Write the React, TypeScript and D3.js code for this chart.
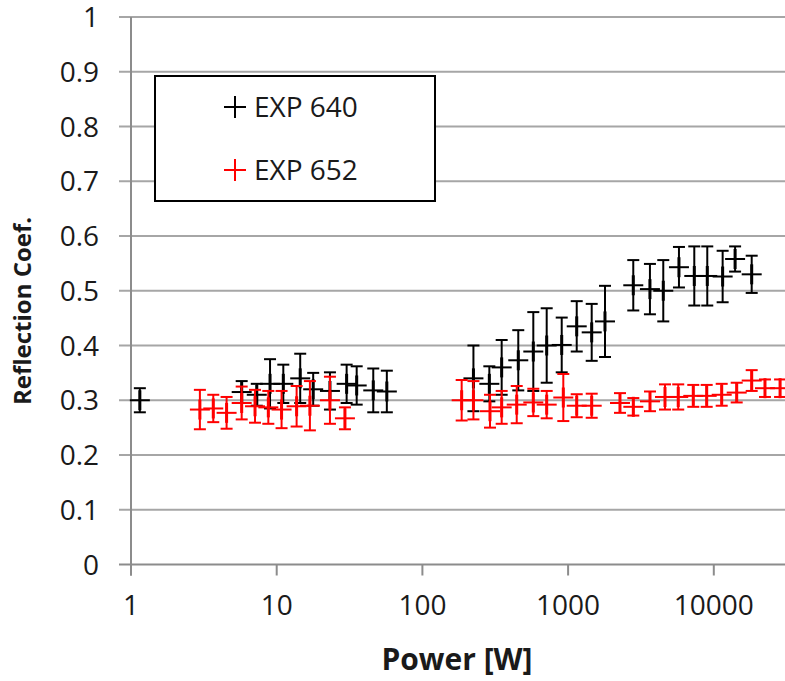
import React from "react";
import * as d3 from "d3";

const yTicks = [0, 0.1, 0.2, 0.3, 0.4, 0.5, 0.6, 0.7, 0.8, 0.9, 1];
const yTickLabels = ["0", "0.1", "0.2", "0.3", "0.4", "0.5", "0.6", "0.7", "0.8", "0.9", "1"];
const xTicks = [1, 10, 100, 1000, 10000];
const xTickLabels = ["1", "10", "100", "1000", "10000"];

const seriesNames = ["EXP 640", "EXP 652"];

const exp640Power = [1.15, 5.75, 7.3, 9.0, 11.1, 14.5, 17.8, 23.2, 30.2, 35.4, 46, 57,
  224, 288, 350, 455, 577, 713, 904, 1146, 1452, 1791, 2801, 3645, 4500, 5766, 7346, 9020, 11500, 14000, 18200];
const exp640Refl = [0.30, 0.315, 0.31, 0.33, 0.33, 0.34, 0.32, 0.317, 0.33, 0.327, 0.318, 0.316,
  0.34, 0.33, 0.36, 0.373, 0.389, 0.40, 0.401, 0.435, 0.424, 0.444, 0.51, 0.503, 0.50, 0.543, 0.527, 0.527, 0.526, 0.558, 0.53];
const exp640Err = [0.022, 0.02, 0.02, 0.045, 0.035, 0.045, 0.03, 0.034, 0.035, 0.035, 0.04, 0.038,
  0.06, 0.032, 0.05, 0.055, 0.072, 0.068, 0.05, 0.046, 0.052, 0.065, 0.046, 0.046, 0.056, 0.037, 0.054, 0.054, 0.047, 0.023, 0.034];

const exp652Power = [2.97, 3.67, 4.53, 5.75, 7.1, 8.76, 10.8, 13.7, 16.9, 23.2, 29.4,
  186, 224, 291, 350, 444, 577, 713, 927, 1146, 1452, 2270, 2803, 3648, 4624, 5700, 7230, 8937, 11330, 14360, 18200, 22450, 28500];
const exp652Refl = [0.283, 0.285, 0.277, 0.295, 0.289, 0.287, 0.283, 0.289, 0.29, 0.30, 0.267,
  0.30, 0.30, 0.28, 0.287, 0.292, 0.296, 0.292, 0.305, 0.29, 0.29, 0.295, 0.288, 0.298, 0.306, 0.306, 0.308, 0.308, 0.31, 0.314, 0.336, 0.322, 0.322];
const exp652Err = [0.036, 0.025, 0.029, 0.03, 0.03, 0.03, 0.034, 0.037, 0.045, 0.043, 0.02,
  0.037, 0.035, 0.03, 0.03, 0.034, 0.025, 0.025, 0.043, 0.021, 0.022, 0.018, 0.016, 0.018, 0.023, 0.023, 0.02, 0.02, 0.02, 0.018, 0.019, 0.016, 0.016];

const W = 785;
const H = 681;
const FONT = "'Open Sans', 'Noto Sans', sans-serif";

export default function App() {
  const left = 131;
  const decade = 145.7;
  const x = d3.scaleLog().domain([1, 100000]).range([left, left + 5 * decade]);
  const y = d3.scaleLinear().domain([0, 1]).range([564.5, 17]);
  const plotRight = W + 10;

  const series = [
    { name: seriesNames[0], color: "#000000", P: exp640Power, R: exp640Refl, E: exp640Err },
    { name: seriesNames[1], color: "#ff0000", P: exp652Power, R: exp652Refl, E: exp652Err },
  ];

  const cap = 6;
  const arm = 10;

  return (
    <svg
      width={W}
      height={H}
      style={{ position: "absolute", left: 0, top: 0, display: "block", background: "#fff" }}
    >
      <rect x={0} y={0} width={W} height={H} fill="#fff" />
      {/* gridlines */}
      {yTicks.map((t, i) =>
        t === 0 ? null : (
          <line key={"g" + i} x1={left - 12} x2={plotRight} y1={y(t)} y2={y(t)} stroke="#a6a6a6" strokeWidth={2} />
        )
      )}
      {/* axes */}
      <line x1={left} x2={left} y1={y(1)} y2={y(0) + 11} stroke="#8c8c8c" strokeWidth={2} />
      <line x1={left - 12} x2={plotRight} y1={y(0)} y2={y(0)} stroke="#8c8c8c" strokeWidth={2} />
      {xTicks.map((t, i) => (
        <line key={"xt" + i} x1={x(t)} x2={x(t)} y1={y(0)} y2={y(0) + 11} stroke="#8c8c8c" strokeWidth={2} />
      ))}
      {/* tick labels */}
      {yTicks.map((t, i) => (
        <text key={"yl" + i} x={99} y={y(t) + 10} textAnchor="end" fontFamily={FONT} fontSize={28} fill="#1a1a1a">
          {yTickLabels[i]}
        </text>
      ))}
      {xTicks.map((t, i) => (
        <text key={"xl" + i} x={x(t)} y={615} textAnchor="middle" fontFamily={FONT} fontSize={28} fill="#1a1a1a">
          {xTickLabels[i]}
        </text>
      ))}
      {/* axis titles */}
      <text x={457} y={670} textAnchor="middle" fontFamily={FONT} fontWeight="bold" fontSize={30} fill="#1a1a1a">
        Power [W]
      </text>
      <text
        transform={`translate(31, 311) rotate(-90)`}
        textAnchor="middle"
        fontFamily={FONT}
        fontWeight="bold"
        fontSize={24}
        fill="#1a1a1a"
      >
        Reflection Coef.
      </text>
      {/* data */}
      {series.map((s, si) => (
        <g key={"s" + si} stroke={s.color} fill="none">
          {s.P.map((p, i) => {
            const cx = x(p);
            const cy = y(s.R[i]);
            const yt = y(s.R[i] + s.E[i]);
            const yb = y(s.R[i] - s.E[i]);
            return (
              <g key={i}>
                <line x1={cx} x2={cx} y1={yt} y2={yb} strokeWidth={2} />
                <line x1={cx - cap} x2={cx + cap} y1={yt} y2={yt} strokeWidth={2} />
                <line x1={cx - cap} x2={cx + cap} y1={yb} y2={yb} strokeWidth={2} />
                <line x1={cx - arm} x2={cx + arm} y1={cy} y2={cy} strokeWidth={2} />
                <line x1={cx} x2={cx} y1={cy - arm} y2={cy + arm} strokeWidth={3} />
              </g>
            );
          })}
        </g>
      ))}
      {/* legend */}
      <rect x={155} y={76} width={280} height={125} fill="#fff" stroke="#000" strokeWidth={2} />
      {series.map((s, i) => {
        const ly = 107 + i * 63;
        return (
          <g key={"lg" + i}>
            <line x1={224} x2={246} y1={ly} y2={ly} stroke={s.color} strokeWidth={2} />
            <line x1={235} x2={235} y1={ly - 11} y2={ly + 11} stroke={s.color} strokeWidth={2} />
            <text x={254} y={ly + 10} fontFamily={FONT} fontSize={28} fill="#1a1a1a">
              {s.name}
            </text>
          </g>
        );
      })}
    </svg>
  );
}
